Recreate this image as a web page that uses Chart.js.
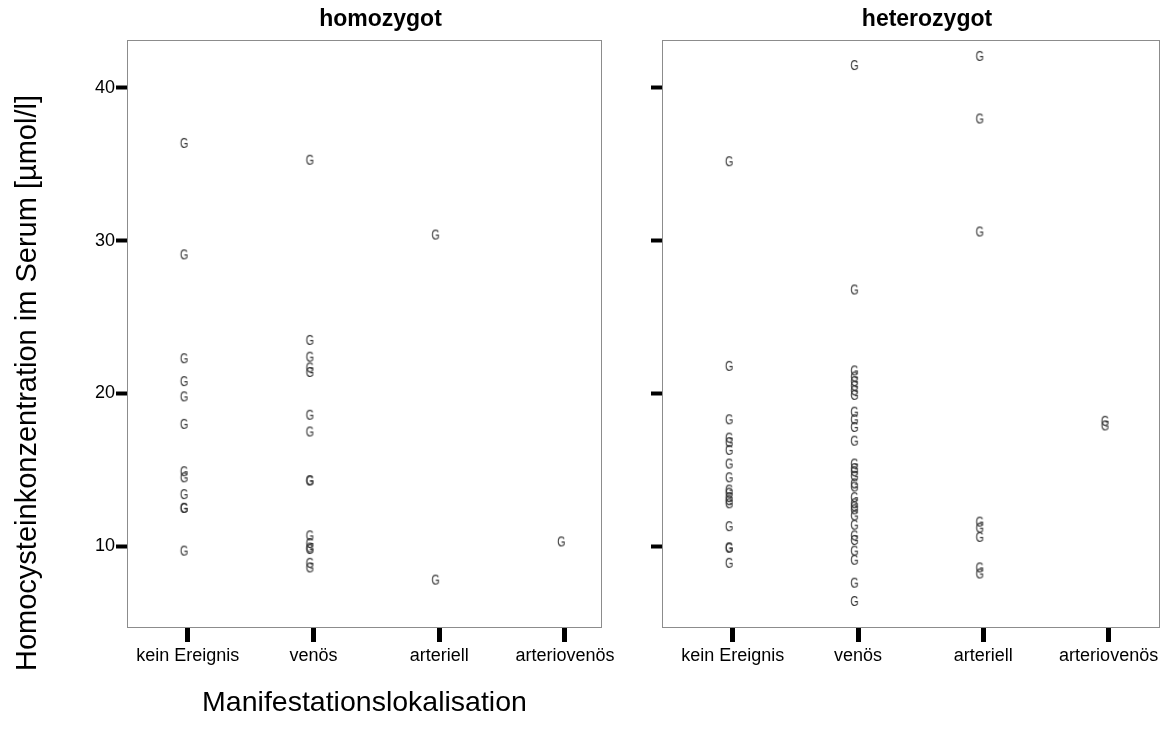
<!DOCTYPE html>
<html>
<head>
<meta charset="utf-8">
<script src="https://cdn.jsdelivr.net/npm/chart.js@4.4.1/dist/chart.umd.min.js"></script>
<style>
  html, body { margin: 0; padding: 0; background: #fff; }
  #wrap { position: relative; width: 1166px; height: 735px; }
  .panel { position: absolute; top: 0; height: 735px; }
  #p1 { left: 0; width: 620px; }
  #p2 { left: 620px; width: 546px; }
</style>
</head>
<body>
<div id="wrap">
  <div class="panel" id="p1"><canvas id="homChart" width="620" height="735"></canvas></div>
  <div class="panel" id="p2"><canvas id="hetChart" width="546" height="735"></canvas></div>
</div>
<script>
// =====================
// DATA
// =====================
const categories = ['kein Ereignis', 'venös', 'arteriell', 'arteriovenös'];
const yTicks = [10, 20, 30, 40];

// homozygot
const homKein = [36.4, 29.1, 22.3, 20.8, 19.8, 18.0, 14.9, 14.5, 13.4, 12.5, 12.5, 9.7];
const homVenoes = [35.3, 23.5, 22.4, 21.7, 21.4, 18.6, 17.5, 14.3, 14.3, 10.7, 10.2, 9.9, 9.8, 8.9, 8.6];
const homArteriell = [30.4, 7.8];
const homArteriovenoes = [10.3];

// heterozygot
const hetKein = [35.2, 21.8, 18.3, 17.1, 16.8, 16.3, 15.4, 14.5, 13.7, 13.5, 13.2, 13.0, 12.8,
  11.3, 9.9, 9.9, 8.9];
const hetVenoes = [41.5, 26.8, 21.5, 21.1, 20.8, 20.5, 20.2, 19.9, 18.8, 18.3, 17.8, 16.9,
  15.4, 15.1, 14.9, 14.6, 14.1, 13.9, 13.2, 12.8, 12.6, 12.4, 12.0, 11.4, 10.7, 10.4,
  9.7, 9.1, 7.6, 6.4];
const hetArteriell = [42.1, 38.0, 30.6, 11.6, 11.2, 10.6, 8.6, 8.2];
const hetArteriovenoes = [18.2, 17.9];

const FONT = '"Liberation Sans", Arial, sans-serif';

// =====================
// MARKER "G"
// =====================
function makeMarker() {
  const c = document.createElement('canvas');
  c.width = 24;
  c.height = 18;
  const ctx = c.getContext('2d');
  ctx.fillStyle = '#333';
  ctx.font = '14px ' + FONT;
  ctx.textAlign = 'center';
  ctx.textBaseline = 'alphabetic';
  ctx.translate(8.5, 0);
  ctx.scale(0.76, 1);
  ctx.fillText('G', 0, 9 + 5);
  return c;
}
const marker = makeMarker();

function toPoints(groups) {
  let pts = [];
  groups.forEach((vals, i) => {
    vals.forEach(v => pts.push({ x: i, y: v }));
  });
  return pts;
}

// =====================
// PLUGINS
// =====================
const framePlugin = {
  id: 'frame',
  beforeDatasetsDraw(chart) {
    const a = chart.chartArea;
    const ctx = chart.ctx;
    ctx.save();
    ctx.strokeStyle = '#8c8c8c';
    ctx.lineWidth = 1;
    ctx.strokeRect(a.left + 0.5, a.top + 0.5, a.right - a.left - 1, a.bottom - a.top - 1);
    ctx.restore();
  }
};

// panel title (slightly right of the plot centre, like the original)
const panelTitlePlugin = {
  id: 'panelTitle',
  afterDraw(chart, args, opts) {
    const a = chart.chartArea;
    const ctx = chart.ctx;
    ctx.save();
    ctx.fillStyle = '#000';
    ctx.font = 'bold 23px ' + FONT;
    ctx.textAlign = 'center';
    ctx.textBaseline = 'middle';
    ctx.fillText(opts.text, (a.left + a.right) / 2 + 16, 20);
    ctx.restore();
  }
};

const yTitlePlugin = {
  id: 'yTitle',
  afterDraw(chart, args, opts) {
    if (!opts.text) return;
    const ctx = chart.ctx;
    ctx.save();
    ctx.translate(opts.x, opts.y);
    ctx.rotate(-Math.PI / 2);
    ctx.fillStyle = '#000';
    ctx.font = '29px ' + FONT;
    ctx.textAlign = 'center';
    ctx.textBaseline = 'middle';
    ctx.fillText(opts.text, 0, 0);
    ctx.restore();
  }
};

// =====================
// PANEL
// =====================
function makePanel(canvasId, title, groups, cfg) {
  return new Chart(document.getElementById(canvasId), {
    type: 'scatter',
    data: {
      datasets: [{
        data: toPoints(groups),
        pointStyle: marker,
        pointRadius: 5,
        pointHoverRadius: 5
      }]
    },
    options: {
      responsive: false,
      animation: false,
      layout: { padding: { left: 0, right: cfg.padRight, top: 40, bottom: 0 } },
      plugins: {
        legend: { display: false },
        tooltip: { enabled: false },
        title: { display: false },
        panelTitle: { text: title },
        yTitle: cfg.yTitle || {}
      },
      scales: {
        x: {
          type: 'linear',
          min: cfg.xMin,
          max: cfg.xMax,
          afterBuildTicks: s => { s.ticks = [0, 1, 2, 3].map(v => ({ value: v })); },
          afterFit: s => { s.height = 107; s.paddingLeft = 0; s.paddingRight = 0; },
          border: { display: false },
          grid: { drawOnChartArea: false, drawTicks: true, tickLength: 14, tickWidth: 5, tickColor: '#000' },
          ticks: {
            callback: v => categories[v],
            color: '#000',
            padding: 3,
            maxRotation: 0,
            autoSkip: false,
            font: { family: FONT, size: 18 }
          },
          title: {
            display: !!cfg.xTitle,
            text: cfg.xTitle || '',
            color: '#000',
            font: { family: FONT, size: 28.5 },
            padding: { top: 0, bottom: 15 }
          }
        },
        y: {
          type: 'linear',
          min: 4.63,
          max: 43.14,
          afterBuildTicks: s => { s.ticks = yTicks.map(v => ({ value: v })); },
          afterFit: s => { s.width = cfg.yWidth; s.paddingTop = 0; s.paddingBottom = 0; },
          border: { display: false },
          grid: { drawOnChartArea: false, drawTicks: true, tickLength: 11, tickWidth: 4, tickColor: '#000' },
          ticks: {
            display: cfg.yLabels,
            color: '#000',
            padding: 1,
            font: { family: FONT, size: 18 }
          }
        }
      }
    },
    plugins: [framePlugin, panelTitlePlugin, yTitlePlugin]
  });
}

makePanel('homChart', 'homozygot', [homKein, homVenoes, homArteriell, homArteriovenoes], {
  xMin: -0.483, xMax: 3.295, yWidth: 127, padRight: 18, yLabels: true,
  xTitle: 'Manifestationslokalisation',
  yTitle: { text: 'Homocysteinkonzentration im Serum [µmol/l]', x: 28, y: 383 }
});

makePanel('hetChart', 'heterozygot', [hetKein, hetVenoes, hetArteriell, hetArteriovenoes], {
  xMin: -0.565, xMax: 3.41, yWidth: 42, padRight: 2, yLabels: false
});
</script>
</body>
</html>
